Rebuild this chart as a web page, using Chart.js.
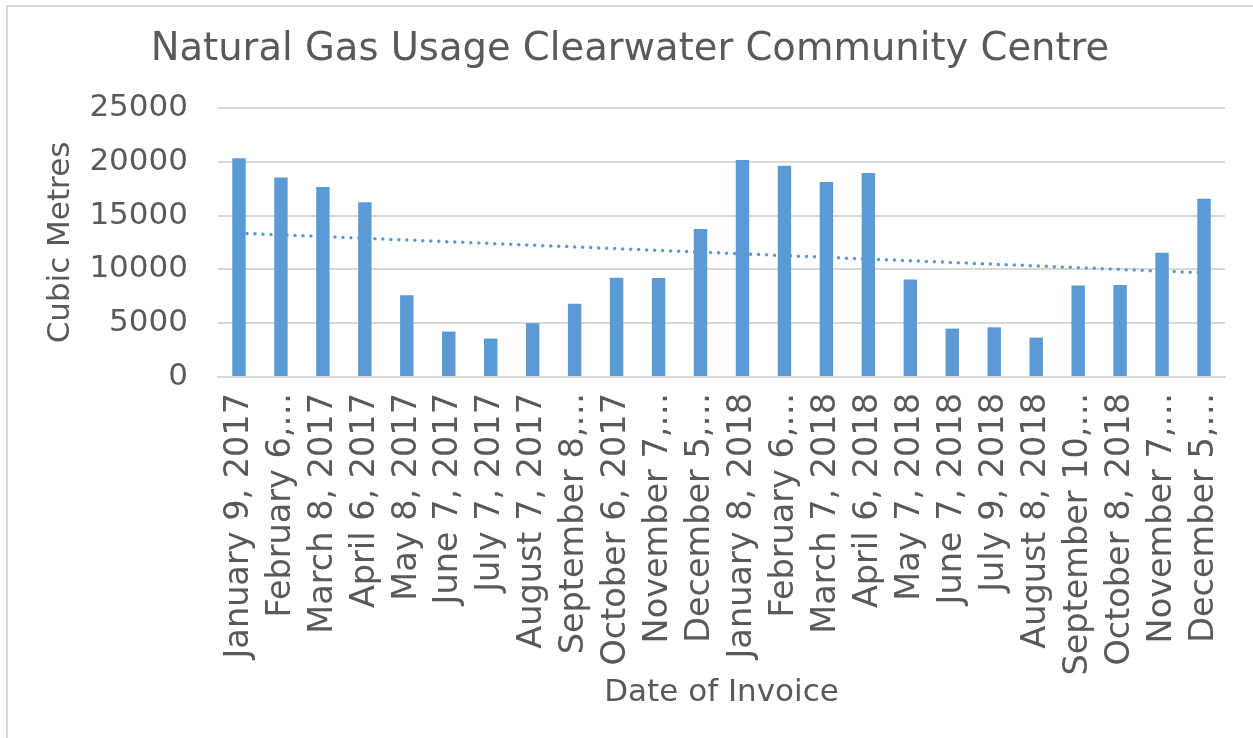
<!DOCTYPE html>
<html>
<head>
<meta charset="utf-8">
<script src="https://cdn.jsdelivr.net/npm/chart.js@4.4.0/dist/chart.umd.min.js"></script>
<style>
  html, body { margin: 0; padding: 0; background: #fff; overflow: hidden; }
  #frame { position: absolute; left: 6px; top: 5px; width: 1300px; height: 800px; border: 2px solid #d9d9d9; }
  #wrap { position: absolute; left: 0; top: 0; width: 1253px; height: 738px; }
</style>
</head>
<body>
<div id="frame"></div>
<div id="wrap"><canvas id="gasChart"></canvas></div>
<script>
var chartTitle = 'Natural Gas Usage Clearwater Community Centre';
var invoiceDates = [
    'January 9, 2017', 'February 6,…', 'March 8, 2017', 'April 6, 2017',
    'May 8, 2017', 'June 7, 2017', 'July 7, 2017', 'August 7, 2017',
    'September 8,…', 'October 6, 2017', 'November 7,…', 'December 5,…',
    'January 8, 2018', 'February 6,…', 'March 7, 2018', 'April 6, 2018',
    'May 7, 2018', 'June 7, 2018', 'July 9, 2018', 'August 8, 2018',
    'September 10,…', 'October 8, 2018', 'November 7,…', 'December 5,…'
];
var cubicMetres = [
    20330, 18530, 17660, 16230, 7600, 4220, 3570, 5000,
    6800, 9220, 9190, 13750, 20170, 19640, 18120, 18960,
    9060, 4500, 4620, 3660, 8500, 8560, 11540, 16570
];
// linear trendline, end values
var trendStart = 13370;
var trendEnd = 9680;
var yTicks = [0, 5000, 10000, 15000, 20000, 25000];

var trendData = invoiceDates.map(function () { return null; });
trendData[0] = trendStart;
trendData[trendData.length - 1] = trendEnd;

var textColor = '#595959';
var gridColor = '#d9d9d9';
var fontFamily = '"DejaVu Sans", Verdana, sans-serif';

// title centred on the whole frame, like the spreadsheet does
var frameTitle = {
    id: 'frameTitle',
    afterDraw: function (chart) {
        var c = chart.ctx;
        c.save();
        c.fillStyle = textColor;
        c.font = '38.5px ' + fontFamily;
        c.textAlign = 'center';
        c.textBaseline = 'middle';
        c.fillText(chartTitle, 630, 50);
        c.restore();
    }
};

var ctx = document.getElementById('gasChart').getContext('2d');
var gasChart = new Chart(ctx, {
    type: 'bar',
    data: {
        labels: invoiceDates,
        datasets: [
            {
                type: 'line',
                label: 'Linear trend',
                data: trendData,
                spanGaps: true,
                borderColor: '#5b9bd5',
                borderWidth: 3.5,
                borderDash: [0, 8],
                borderCapStyle: 'round',
                pointRadius: 0,
                fill: false,
                order: 0
            },
            {
                label: 'Cubic Metres',
                data: cubicMetres,
                backgroundColor: '#5b9bd5',
                categoryPercentage: 1.0,
                barPercentage: 0.32,
                order: 1
            }
        ]
    },
    plugins: [frameTitle],
    options: {
        responsive: true,
        maintainAspectRatio: false,
        animation: false,
        layout: { padding: { left: 10, right: 28, top: 108, bottom: 10 } },
        plugins: {
            legend: { display: false },
            tooltip: { enabled: false },
            title: { display: false }
        },
        scales: {
            x: {
                grid: { display: false, drawTicks: false },
                border: { color: gridColor, width: 2 },
                ticks: {
                    color: textColor,
                    font: { family: fontFamily, size: 33.5 },
                    autoSkip: false,
                    maxRotation: 90,
                    minRotation: 90,
                    padding: 16
                },
                title: {
                    display: true,
                    text: 'Date of Invoice',
                    color: textColor,
                    font: { family: fontFamily, size: 31 },
                    padding: { top: 0, bottom: 16 }
                },
                afterFit: function (scale) {
                    scale.height = 351;
                    scale.paddingLeft = 0;
                    scale.paddingRight = 0;
                }
            },
            y: {
                min: 0,
                max: 25000,
                afterBuildTicks: function (scale) {
                    scale.ticks = yTicks.map(function (v) { return { value: v }; });
                },
                grid: { color: gridColor, lineWidth: 2, drawTicks: false },
                border: { display: false },
                ticks: {
                    color: textColor,
                    font: { family: fontFamily, size: 31 },
                    padding: 30,
                    callback: function (value) { return String(value); }
                },
                title: {
                    display: true,
                    text: 'Cubic Metres',
                    color: textColor,
                    font: { family: fontFamily, size: 31 },
                    padding: { top: 32, bottom: 0 }
                },
                afterFit: function (scale) { scale.width = 208; }
            }
        }
    }
});
</script>
</body>
</html>
